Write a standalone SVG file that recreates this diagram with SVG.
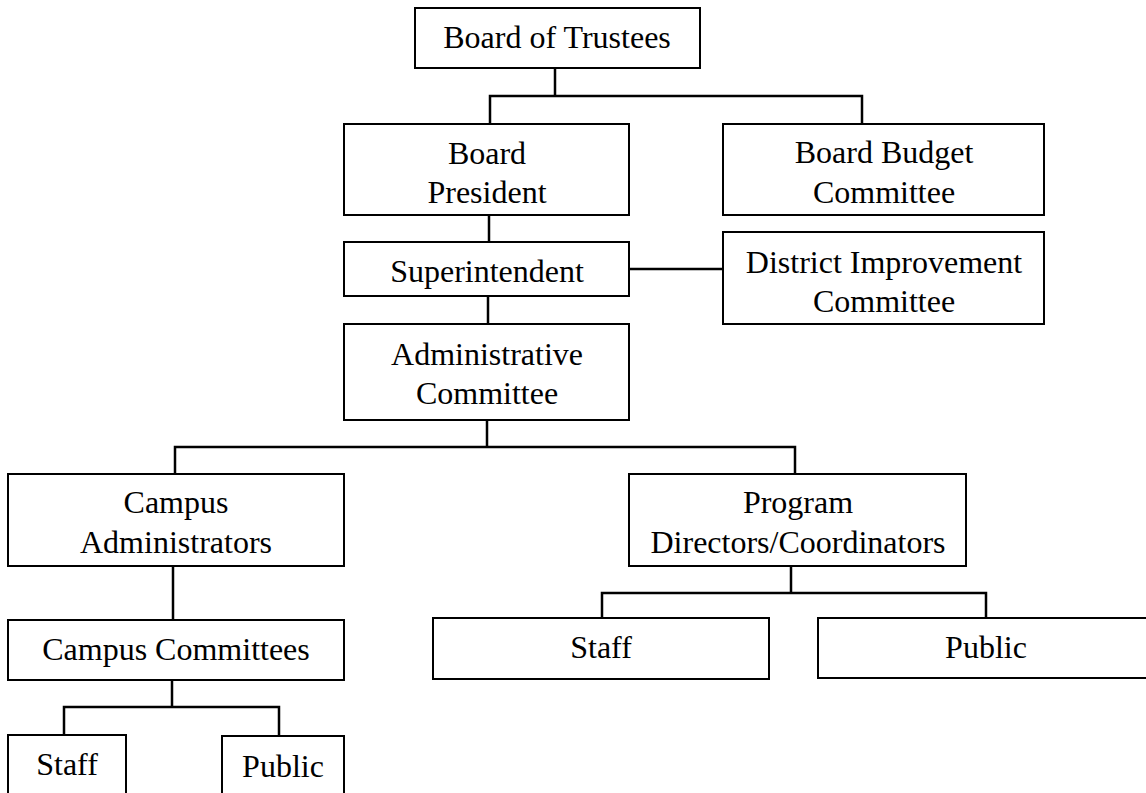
<svg xmlns="http://www.w3.org/2000/svg" width="1146" height="793" viewBox="0 0 1146 793">
<style>
.box{fill:#fff;stroke:#000;stroke-width:2}
.lbl{font-family:"Liberation Serif","Times New Roman",serif;font-size:32px;fill:#000;text-anchor:middle}
.conn path{fill:none;stroke:#000;stroke-width:2.5}
</style>
<rect width="1146" height="793" fill="#fff"/>
<g id="connectors" class="conn">
<path d="M555 68 V96 M490 124 V96 H862 V124"/>
<path d="M489 215 V242"/>
<path d="M629 269 H723"/>
<path d="M488 296 V324"/>
<path d="M487 420 V447 M175 474 V447 H795 V474"/>
<path d="M173 566 V620"/>
<path d="M172 680 V707 M64 735 V707 H279 V736"/>
<path d="M791 566 V593 M602 618 V593 H986 V618"/>
</g>
<g id="trustees"><rect class="box" x="415" y="8" width="285" height="60"/><text class="lbl" x="557" y="48">Board of Trustees</text></g>
<g id="president"><rect class="box" x="344" y="124" width="285" height="91"/><text class="lbl" x="487" y="164">Board</text><text class="lbl" x="487" y="203">President</text></g>
<g id="budget"><rect class="box" x="723" y="124" width="321" height="91"/><text class="lbl" x="884" y="163">Board Budget</text><text class="lbl" x="884" y="203">Committee</text></g>
<g id="superintendent"><rect class="box" x="344" y="242" width="285" height="54"/><text class="lbl" x="487" y="282">Superintendent</text></g>
<g id="district"><rect class="box" x="723" y="232" width="321" height="92"/><text class="lbl" x="884" y="273">District Improvement</text><text class="lbl" x="884" y="312">Committee</text></g>
<g id="admin"><rect class="box" x="344" y="324" width="285" height="96"/><text class="lbl" x="487" y="365">Administrative</text><text class="lbl" x="487" y="404">Committee</text></g>
<g id="campus-admin"><rect class="box" x="8" y="474" width="336" height="92"/><text class="lbl" x="176" y="513">Campus</text><text class="lbl" x="176" y="553">Administrators</text></g>
<g id="program"><rect class="box" x="629" y="474" width="337" height="92"/><text class="lbl" x="798" y="513">Program</text><text class="lbl" x="798" y="553">Directors/Coordinators</text></g>
<g id="campus-committees"><rect class="box" x="8" y="620" width="336" height="60"/><text class="lbl" x="176" y="660">Campus Committees</text></g>
<g id="program-staff"><rect class="box" x="433" y="618" width="336" height="61"/><text class="lbl" x="601" y="658">Staff</text></g>
<g id="program-public"><rect class="box" x="818" y="618" width="336" height="60"/><text class="lbl" x="986" y="658">Public</text></g>
<g id="campus-staff"><rect class="box" x="8" y="735" width="118" height="80"/><text class="lbl" x="67" y="775">Staff</text></g>
<g id="campus-public"><rect class="box" x="222" y="736" width="122" height="80"/><text class="lbl" x="283" y="777">Public</text></g>
</svg>
